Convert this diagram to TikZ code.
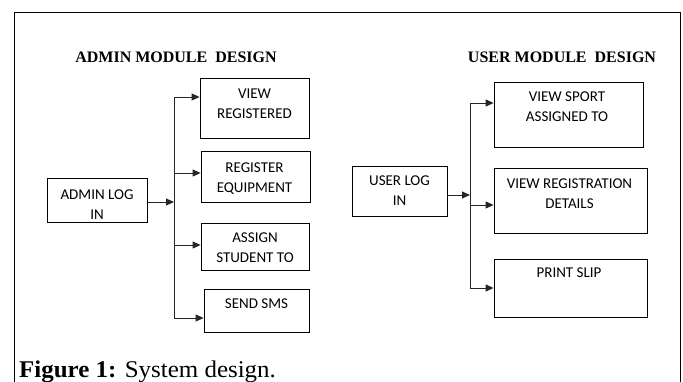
\documentclass[tikz,border=0pt]{standalone}
\usepackage{fontspec}
\setmainfont{Liberation Serif}
\newfontfamily\boxfont{Carlito}
\usetikzlibrary{arrows.meta}
\begin{document}
\begin{tikzpicture}[x=1pt,y=-1pt,
  box/.style={draw=black,line width=0.8pt,inner sep=0pt,minimum width=#1},
  btxt/.style={anchor=north,inner sep=0pt,align=center,font=\boxfont\fontsize{15}{20}\selectfont},
  ttl/.style={anchor=base,inner sep=0pt,font=\bfseries\fontsize{16}{18}\selectfont},
  conn/.style={draw=black!85,line width=0.9pt},
  arr/.style={conn,-{Triangle[length=8pt,width=7pt]}}]
\useasboundingbox (0,0) rectangle (683,382);
% outer frame
\draw[line width=1pt] (14,400) -- (14,13) -- (680,13) -- (680,400);
% titles
\node[ttl] (tadmin) at (176,63) {ADMIN MODULE\ \ DESIGN};
\node[ttl] (tuser) at (562,63) {USER MODULE\ \ DESIGN};
% admin side boxes
\node[box=100pt,minimum height=44pt] (admin) at (97,200) {};
\node[box=109pt,minimum height=60pt] (v1) at (254.5,108) {};
\node[box=109pt,minimum height=51pt] (v2) at (255.5,176.5) {};
\node[box=108pt,minimum height=47pt] (v3) at (255,246.5) {};
\node[box=105pt,minimum height=43pt] (v4) at (256.5,310.5) {};
\begin{scope}
\clip (admin.north west) rectangle (admin.south east);
\node[btxt] (tadminlog) at (97,190) {\fontsize{15}{18}\selectfont ADMIN LOG\\IN};
\end{scope}
\node[btxt] (tv1) at (254.5,89) {VIEW\\REGISTERED};
\node[btxt] (tv2) at (254.5,162.5) {REGISTER\\EQUIPMENT};
\node[btxt] (tv3) at (255,233) {ASSIGN\\STUDENT TO};
\node[btxt] (tv4) at (256.5,299) {SEND SMS};
% admin connectors
\coordinate (a1) at (174,97);
\coordinate (a2) at (174,173);
\coordinate (a3) at (174,245);
\coordinate (a4) at (174,318);
\coordinate (am) at (174,202);
\draw[arr] (admin.east |- am) -- (am);
\draw[conn] (a1) -- (a4);
\draw[arr] (a1) -- (a1 -| v1.west);
\draw[arr] (a2) -- (a2 -| v2.west);
\draw[arr] (a3) -- (a3 -| v3.west);
\draw[arr] (a4) -- (a4 -| v4.west);
% user side boxes
\node[box=95pt,minimum height=50pt] (user) at (399.5,191) {};
\node[box=149pt,minimum height=65pt] (u1) at (568.5,114.5) {};
\node[box=153pt,minimum height=65pt] (u2) at (570.5,200.5) {};
\node[box=153pt,minimum height=58pt] (u3) at (570.5,288) {};
\node[btxt] (tuserlog) at (399.5,176) {USER LOG\\IN};
\node[btxt] (tu1) at (567,92) {VIEW SPORT\\ASSIGNED TO};
\node[btxt] (tu2) at (569.5,179) {VIEW REGISTRATION\\DETAILS};
\node[btxt] (tu3) at (569,268) {PRINT SLIP};
% user connectors
\coordinate (b1) at (470,103);
\coordinate (b2) at (470,205);
\coordinate (b3) at (470,288);
\coordinate (bm) at (470,195);
\draw[arr] (user.east |- bm) -- (bm);
\draw[conn] (b1) -- (b3);
\draw[arr] (b1) -- (b1 -| u1.west);
\draw[arr] (b2) -- (b2 -| u2.west);
\draw[arr] (b3) -- (b3 -| u3.west);
% caption
\node[anchor=base west,inner sep=0pt,font=\fontsize{24}{26}\selectfont] (cap) at (19,377) {\scalebox{1.04}[1]{\textbf{Figure 1:} System design.}};
\end{tikzpicture}
\end{document}
